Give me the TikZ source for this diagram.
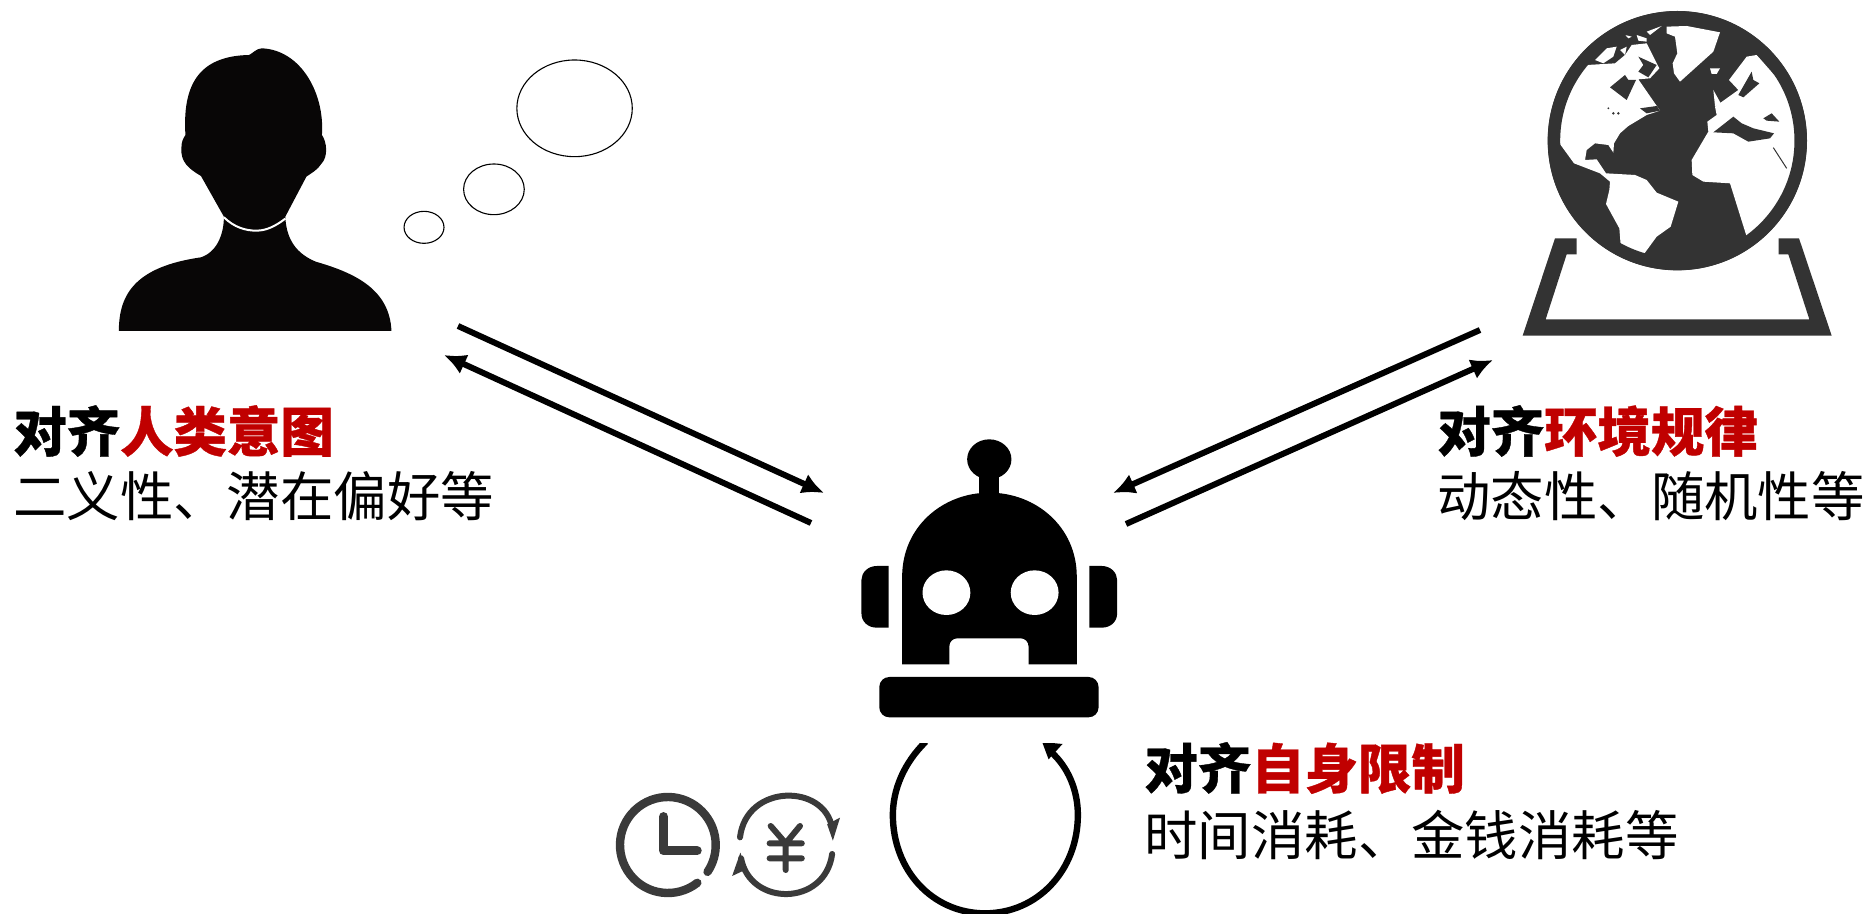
\documentclass[tikz,border=0pt]{standalone}
\usepackage{fontspec}
\usetikzlibrary{arrows.meta}
\newfontfamily\cjk[BoldFeatures={FakeBold=0.7}]{Noto Sans CJK SC}
\definecolor{redt}{HTML}{C00000}
\definecolor{ink}{HTML}{080606}
\definecolor{globe}{HTML}{333333}
\definecolor{icon}{HTML}{3A3A3A}
\tikzset{
 conn/.style={line width=3pt,-{Latex[length=11pt,width=10.5pt]}},
 bubble/.style={draw=black,line width=0.55pt,fill=white},
 head1/.style={anchor=west,inner sep=0pt,font=\cjk\bfseries\fontsize{26.7}{26.7}\selectfont},
 head2/.style={anchor=west,inner sep=0pt,font=\cjk\fontsize{26.7}{26.7}\selectfont},
}
\begin{document}
\begin{tikzpicture}[x=0.5pt,y=-0.5pt]
\useasboundingbox (0,0) rectangle (1870,914);
\fill[white] (0,0) rectangle (1870,914);
% person
\begin{scope}[shift={(90,20)},xscale=0.36990,yscale=0.33333]
\fill[ink] (78,933) .. controls (78,820) and (125,740) .. (300,712)
 .. controls (345,695) and (362,640) .. (362,590)
 -- (300,468) .. controls (265,445) and (245,425) .. (247,385)
 .. controls (247,365) and (252,355) .. (258,345)
 .. controls (250,200) and (290,108) .. (430,105)
 .. controls (440,100) and (450,85) .. (465,85)
 .. controls (570,90) and (635,220) .. (627,345)
 .. controls (640,365) and (645,410) .. (625,432)
 .. controls (615,450) and (600,458) .. (585,470)
 -- (528,590) .. controls (530,640) and (545,695) .. (610,725)
 .. controls (720,760) and (810,810) .. (815,933) -- cycle;
\draw[white,line width=1pt] (362,592) .. controls (390,622) and (420,632) .. (450,632) .. controls (480,632) and (505,615) .. (528,596);
\draw[bubble] (1310,265) ellipse [x radius=156,y radius=145];
\draw[bubble] (1092,508) ellipse [x radius=82,y radius=76];
\draw[bubble] (903,622) ellipse [x radius=54,y radius=48];
\end{scope}
% globe
\begin{scope}[shift={(1500,0)},scale=0.33333]
\fill[globe] (68,1007) -- (995,1007) -- (897,715) -- (836,715) -- (836,763) -- (865,763) -- (928,958) -- (137,958) -- (200,763) -- (230,763) -- (230,715) -- (165,715) -- cycle;
\fill[globe] (532,422) circle [radius=389];
\fill[white] (165,425) -- (175,340) -- (210,250) -- (262,195) -- (345,190) -- (375,165) -- (395,135) -- (440,130) -- (470,190) -- (478,205) -- (450,235) -- (415,238) -- (480,332) -- (440,345) -- (385,378) -- (360,400) -- (342,430) -- (340,458) -- (325,435) -- (285,430) -- (260,450) -- (255,480) -- (290,478) -- (318,520) -- (405,525) -- (440,540) -- (470,578) -- (535,605) -- (512,680) -- (470,710) -- (432,762) -- (362,735) -- (358,685) -- (318,612) -- (328,570) -- (330,545) -- (300,520) -- (222,490) -- (182,435) -- cycle;
\fill[white] (500,80) -- (560,78) -- (660,97) -- (640,155) -- (540,245) -- (522,220) -- (518,190) -- (532,160) -- (525,110) -- (500,100) -- cycle;
\fill[white] (740,710) -- (800,690) -- (900,500) -- (905,400) -- (880,290) -- (770,165) -- (740,170) -- (687,240) -- (715,270) -- (645,320) -- (650,345) -- (622,365) -- (625,395) -- (575,480) -- (577,525) -- (610,545) -- (690,550) -- cycle;
\fill[white] (285,180) -- (320,145) -- (350,140) -- (340,170) -- (310,190) -- cycle;
\fill[white] (360,150) -- (380,140) -- (375,165) -- cycle;
\fill[white] (375,105) -- (395,110) -- (385,115) -- cycle;
\fill[white] (410,105) -- (440,115) -- (440,125) -- (415,122) -- cycle;
\fill[white] (440,95) -- (485,78) -- (450,105) -- cycle;
\fill[white] (630,205) -- (660,205) -- (650,222) -- (635,222) -- cycle;
\fill[white] (640,270) -- (665,315) -- (645,318) -- cycle;
\fill[globe] (330,262) -- (375,225) -- (385,240) -- (408,240) -- (380,300) -- cycle;
\fill[globe] (415,170) -- (470,195) -- (445,232) -- (415,215) -- (430,195) -- cycle;
\fill[globe] (420,325) -- (470,318) -- (480,332) -- (440,340) -- cycle;
\fill[globe] (715,285) -- (755,215) -- (760,240) -- (778,250) -- (730,292) -- cycle;
\fill[globe] (640,397) -- (700,350) -- (725,370) -- (760,385) -- (822,400) -- (810,415) -- (745,425) -- (700,400) -- cycle;
\fill[globe] (790,355) -- (815,340) -- (838,365) -- (800,362) -- cycle;
\draw[globe,line width=0.5pt] (820,443) -- (860,505);
\fill[globe] (325,325) circle [radius=3] (340,340) circle [radius=4] (355,340) circle [radius=4];
\draw[globe,line width=6.2pt] (532,422) circle [radius=370];
\end{scope}
% robot
\begin{scope}[shift={(600,430)},xscale=0.35714,yscale=0.33333]
\fill[black] (1090,88) ellipse [x radius=62,y radius=60];
\fill[black] (1060,120) rectangle (1118,200);
\fill[black] (846,703) -- (846,440) .. controls (846,290) and (960,188) .. (1090,188) .. controls (1220,188) and (1335,290) .. (1335,440) -- (1335,703) -- (1200,703) -- (1200,650) .. controls (1200,635) and (1190,625) .. (1178,625) -- (1000,625) .. controls (988,625) and (978,635) .. (978,650) -- (978,703) -- cycle;
\fill[white] (970,488) ellipse [x radius=67,y radius=67] (1217,488) ellipse [x radius=67,y radius=67];
\fill[black] (808,408) -- (775,408) .. controls (750,408) and (732,428) .. (732,450) -- (732,550) .. controls (732,575) and (750,593) .. (775,593) -- (808,593) -- cycle;
\fill[black] (1370,408) -- (1405,408) .. controls (1430,408) and (1448,428) .. (1448,450) -- (1448,550) .. controls (1448,575) and (1430,593) .. (1405,593) -- (1370,593) -- cycle;
\fill[black,rounded corners=5pt] (782,741) rectangle (1396,862);
\coordinate (loopA) at (912,935);
\coordinate (loopB) at (1262,965);
\begin{scope}
\clip (700,941) rectangle (1400,1452);
\draw[line width=3.2pt] (loopA) .. controls (850,1000) and (820,1080) .. (820,1155) .. controls (820,1320) and (930,1450) .. (1078,1450) .. controls (1226,1450) and (1338,1320) .. (1338,1155) .. controls (1338,1080) and (1310,1010) .. (loopB);
\fill (1238,936) -- (1295,942) -- (1256,988) -- cycle;
\end{scope}
% clock
\draw[icon,line width=4.2pt,line cap=round] (190,1245) ++(52:134 and 144) arc[start angle=52,end angle=394,x radius=134,y radius=144];
\draw[icon,line width=4.6pt,line cap=round,line join=round] (178,1160) -- (178,1262) -- (272,1262);
% yen
\draw[icon,line width=3pt,line cap=round] (392,1222) .. controls (410,1060) and (630,1060) .. (650,1195);
\fill[icon] (636,1183) -- (672,1163) -- (652,1232) -- cycle;
\draw[icon,line width=3pt,line cap=round] (650,1272) .. controls (630,1430) and (420,1430) .. (395,1285);
\fill[icon] (393,1268) -- (370,1338) -- (410,1318) -- cycle;
\draw[icon,line width=3pt,line cap=round,line join=round] (478,1188) -- (520,1240) -- (560,1188) (475,1240) -- (565,1240) (475,1285) -- (565,1285) (520,1240) -- (520,1320);
\end{scope}
% arrows
\coordinate (a1s) at (458,326); \coordinate (a1e) at (824,493);
\coordinate (a2s) at (811,523); \coordinate (a2e) at (444,355);
\coordinate (a3s) at (1480,330); \coordinate (a3e) at (1113,493);
\coordinate (a4s) at (1126,524); \coordinate (a4e) at (1493,360);
\draw[conn] (a1s) -- (a1e);
\draw[conn] (a2s) -- (a2e);
\draw[conn] (a3s) -- (a3e);
\draw[conn] (a4s) -- (a4e);
% text
\node[head1] (t1) at (13,431) {对齐\textcolor{redt}{人类意图}};
\node[head2] (t2) at (13,496) {二义性、潜在偏好等};
\node[head1] (t3) at (1437,431) {对齐\textcolor{redt}{环境规律}};
\node[head2] (t4) at (1437,496) {动态性、随机性等};
\node[head1] (t5) at (1144,768) {对齐\textcolor{redt}{自身限制}};
\node[head2] (t6) at (1144,835) {时间消耗、金钱消耗等};
\end{tikzpicture}
\end{document}
